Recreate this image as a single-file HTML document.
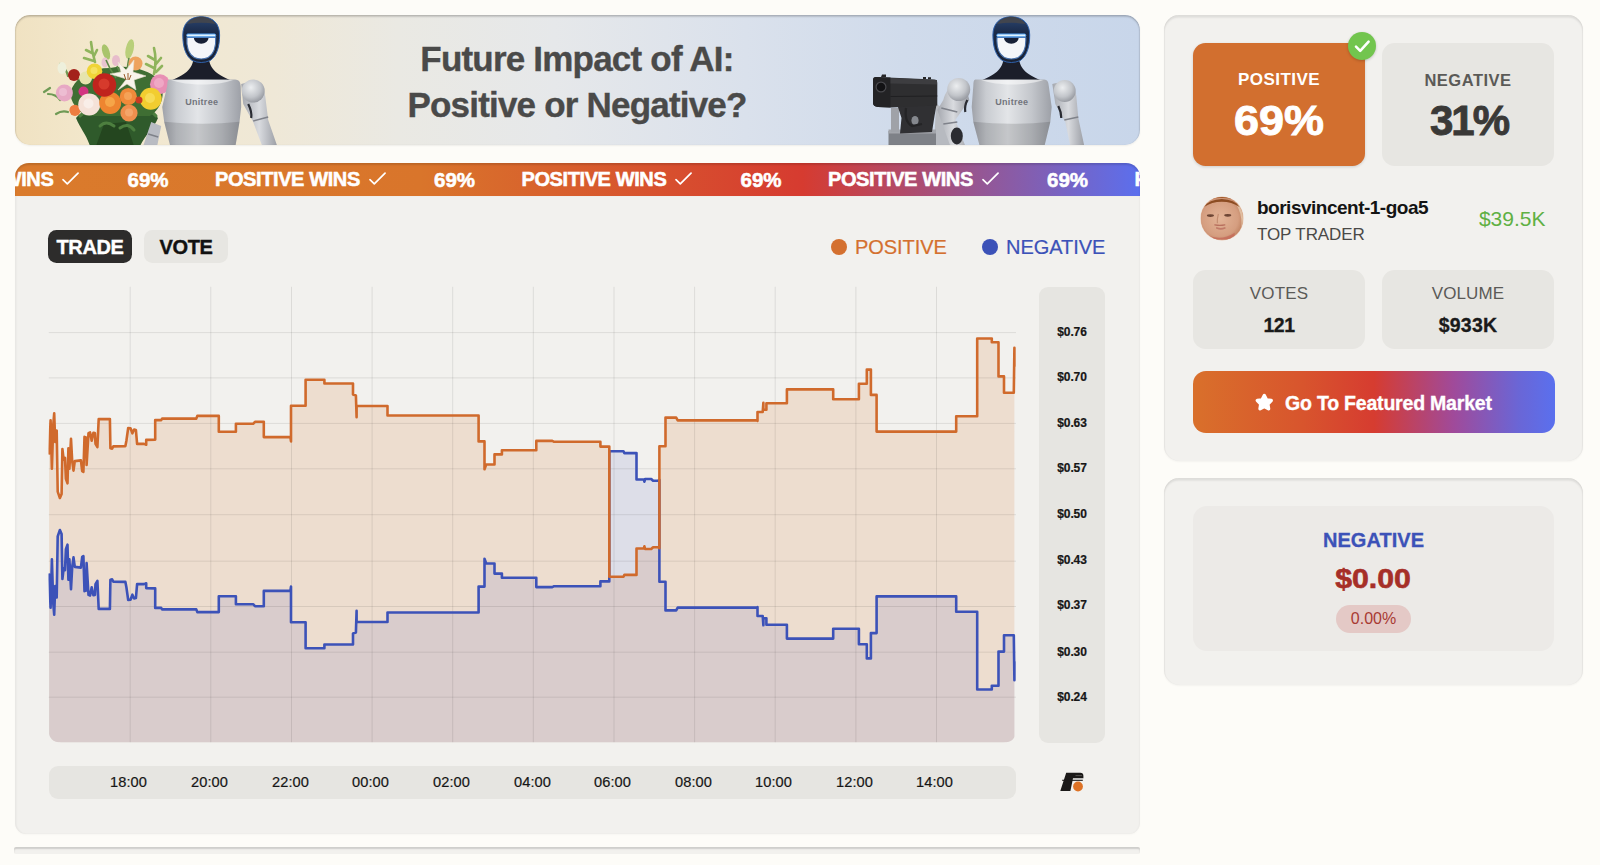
<!DOCTYPE html>
<html lang="en">
<head>
<meta charset="utf-8">
<title>Future Impact of AI: Positive or Negative?</title>
<style>
*{box-sizing:border-box;margin:0;padding:0}
html,body{width:1600px;height:865px;overflow:hidden}
body{background:#fdfcf8;font-family:"Liberation Sans",Arial,Helvetica,sans-serif;color:#1a1a1a;position:relative}
.abs{position:absolute}
/* banner */
#banner{left:15px;top:15px;width:1124.5px;height:130px;border-radius:15px;overflow:hidden;
 background:linear-gradient(90deg,#f0e2c2 0%,#f3e8cd 7.5%,#efe8d7 23%,#eae9e3 34%,#e6e8ea 48%,#dae1ec 65%,#d0dbeb 79%,#c8d6ea 100%);
 box-shadow:0 1px 2px rgba(0,0,0,.06)}
#banner:after{content:"";position:absolute;left:0;top:0;right:0;bottom:0;border-radius:15px;box-shadow:inset 0 1.5px 2px rgba(0,0,0,.24),inset 1px 0 1px rgba(0,0,0,.05),inset -1px 0 1px rgba(0,0,0,.05);pointer-events:none}
#banner h1{position:absolute;left:0;width:1124px;top:21px;text-align:center;font-size:35px;line-height:46px;font-weight:700;color:#4a4a49;letter-spacing:-.8px;-webkit-text-stroke:.35px #4a4a49}
/* ticker */
#ticker{left:15px;top:162.5px;width:1124.5px;height:33.5px;border-radius:14px 14px 0 0;overflow:hidden;
 background:linear-gradient(90deg,#da7b2c 0%,#d9752b 36%,#d63b30 70%,#5b6fee 100%);
 color:#fff;font-weight:700;font-size:20px;line-height:33px;white-space:nowrap;box-shadow:inset 0 2px 2px rgba(0,0,0,.13)}
#ticker span{position:absolute;top:0;-webkit-text-stroke:.55px #fff}
#ticker .pc{font-size:20.5px;letter-spacing:0}
#ticker .pw{font-size:20px;letter-spacing:-.4px}
/* main card */
#card{left:14.6px;top:196px;width:1125.6px;height:637.5px;background:#f2f1ee;border-radius:0 0 11px 11px;box-shadow:inset 1.5px 0 1.5px rgba(0,0,0,.045),inset -1px 0 1.5px rgba(0,0,0,.03),0 1px 2px rgba(0,0,0,.025)}
.tab{top:230px;height:33px;border-radius:8.5px;font-weight:700;font-size:20px;line-height:34px;text-align:center;letter-spacing:-.35px;-webkit-text-stroke:.4px}
#trade{left:48px;width:84px;background:#2d2c2b;color:#fff}
#vote{left:144px;width:84px;background:#e7e6e2;color:#111}
.leg{top:233.7px;font-size:20px;line-height:26px;letter-spacing:-.05px;-webkit-text-stroke:.2px}
.dot{width:16.5px;height:16.5px;border-radius:50%}
#yaxis{left:1039px;top:286.5px;width:66px;height:456px;background:#e6e5e1;border-radius:9px}
#yaxis div{position:absolute;left:0;width:66px;text-align:center;font-size:12px;font-weight:700;line-height:14px;color:#161616;letter-spacing:-.1px;-webkit-text-stroke:.2px}
#xaxis{left:48.5px;top:765.8px;width:967.4px;height:33px;background:#e6e5e1;border-radius:9px}
#xaxis div{position:absolute;top:0;width:80px;text-align:center;font-size:14.6px;line-height:33.5px;color:#161616;-webkit-text-stroke:.2px;letter-spacing:.1px}
/* right */
.rcard{background:#f2f1ee;border-radius:15px;box-shadow:inset 0 2.5px 2px rgba(0,0,0,.085),inset -1px 0 1px rgba(0,0,0,.03),inset 1px 0 1px rgba(0,0,0,.03),0 1px 2px rgba(0,0,0,.04)}
.box{border-radius:12.5px;background:#e7e6e2;text-align:center}
.big{margin-top:2.5px;font-size:42px;line-height:56px;font-weight:700}
.lbl{font-size:17px;color:#5b5a57;letter-spacing:.15px}
</style>
</head>
<body>

<!-- BANNER -->
<div id="banner" class="abs">
<svg id="bsvg" class="abs" style="left:0;top:0" width="1124" height="130" viewBox="15 15 1124 130">
<!--BANNERART-->
<defs>
<linearGradient id="torso" x1="0" x2="1" y1="0" y2="0"><stop offset="0" stop-color="#9fa2a9"/><stop offset=".18" stop-color="#c9ccd1"/><stop offset=".45" stop-color="#e3e5e8"/><stop offset=".75" stop-color="#c3c6cb"/><stop offset="1" stop-color="#9da0a7"/></linearGradient>
<linearGradient id="arm" x1="0" x2="1" y1="0" y2="0"><stop offset="0" stop-color="#a5a8af"/><stop offset=".5" stop-color="#d9dbdf"/><stop offset="1" stop-color="#9b9ea5"/></linearGradient>
<linearGradient id="helm" x1="0" x2="0" y1="0" y2="1"><stop offset="0" stop-color="#2b4672"/><stop offset=".35" stop-color="#1a2a48"/><stop offset="1" stop-color="#1a2233"/></linearGradient>
<radialGradient id="ball" cx=".4" cy=".35" r=".7"><stop offset="0" stop-color="#eceef0"/><stop offset=".6" stop-color="#c2c5ca"/><stop offset="1" stop-color="#92959c"/></radialGradient>
</defs>
<g><path d="M76,118 C82,110 96,106 116,108 C136,106 152,110 158,118 C154,128 146,134 140,146 L90,146 C86,134 80,128 76,118 Z" fill="#2f5a2b"/>
<path d="M96,146 L104,124 L126,122 L134,146 Z" fill="#24461f"/>
<path d="M80,116 q8,-8 16,-4 M140,112 q10,-4 16,4 M100,126 q6,-6 14,0 M120,128 q8,-6 14,2" stroke="#4d7f3f" stroke-width="3" stroke-linecap="round" fill="none"/>
<path d="M72,88 C78,76 92,68 110,68 C130,64 148,70 160,80 C166,94 162,108 150,116 L86,116 C74,108 68,98 72,88Z" fill="#3f6e33"/>
<path d="M91,42 q1,10 4,20 M86,50 l8,4 M84,58 l10,3 M97,50 l-3,6 M154,48 q3,12 0,26 M148,56 l7,4 M146,64 l8,4 M161,58 l-5,6 M162,66 l-6,6" stroke="#8fb45c" stroke-width="2.6" stroke-linecap="round" fill="none"/>
<path d="M48,94 q8,0 12,6 M56,114 q6,-4 12,-2 M60,64 q6,4 8,12 M44,92 l6,-4" stroke="#6f9a55" stroke-width="2.2" stroke-linecap="round" fill="none"/>
<ellipse cx="62" cy="68" rx="4.5" ry="6" fill="#eef0dc"/>
<ellipse cx="129.7" cy="49" rx="4" ry="10" transform="rotate(12 129.7 49)" fill="#b9cf7a"/>
<ellipse cx="106" cy="52" rx="3.6" ry="8" transform="rotate(-18 106 52)" fill="#a9c46c"/>
<ellipse cx="105" cy="62.5" rx="3.5" ry="5" fill="#e9c4d0"/>
<ellipse cx="116" cy="60.5" rx="4" ry="5.5" fill="#e7bccb"/>
<path d="M106,60 q4,10 10,18 M129,58 q-2,10 -2,16 M117,66 q2,6 6,10" stroke="#5d8a48" stroke-width="1.6" fill="none"/>
<circle cx="64.4" cy="93" r="8.5" fill="#e7a9c4" />
<circle cx="63" cy="92" r="4" fill="#edbdd2" />
<circle cx="74" cy="75" r="6" fill="#a3211b" />
<circle cx="85.6" cy="78" r="6.5" fill="#e6e4ae" />
<circle cx="135.5" cy="63.5" r="7" fill="#eea35e" />
<circle cx="94.5" cy="71.2" r="7.8" fill="#f0d437" />
<circle cx="94" cy="70.5" r="3.5" fill="#f6e160" />
<circle cx="83.5" cy="91.5" r="5" fill="#d23481" />
<circle cx="160" cy="84.2" r="10" fill="#e88fb4" />
<circle cx="159" cy="83" r="5" fill="#efa8c5" />
<circle cx="150.7" cy="98.7" r="11" fill="#f2cd30" />
<circle cx="150" cy="98" r="5" fill="#f7dc55" />
<circle cx="75" cy="110.3" r="5.6" fill="#ee7d40" />
<circle cx="89.2" cy="104.5" r="11" fill="#f5e2d8" />
<circle cx="88.5" cy="103.5" r="5" fill="#f9eee8" />
<circle cx="129" cy="113" r="8.6" fill="#ef8f4e" />
<circle cx="129" cy="112.5" r="4" fill="#f4a56a" />
<circle cx="128.3" cy="96.5" r="8.6" fill="#f08a3a" />
<circle cx="128" cy="96" r="4" fill="#f5a257" />
<circle cx="110.2" cy="103" r="11" fill="#ee8530" />
<circle cx="110" cy="102" r="5" fill="#f6a548" />
<circle cx="104.4" cy="85" r="11.8" fill="#c0241d" />
<circle cx="104" cy="84" r="5.5" fill="#d63a2c" />
<circle cx="139" cy="100" r="3.5" fill="#c93a22" />
<path d="M126.5,79 L110,74 L121,72 L118,62 L126,70 L134,60 L133,72 L146,76 L134,80 L136,90 L127,84 L118,90 Z" fill="#f8f3ea" stroke="#eadfcd" stroke-width=".6"/>
<path d="M124,74 l2,6 M128,73 l0,7 M131,75 l-2,5" stroke="#9a5a2a" stroke-width="1" fill="none"/></g>
<g transform="translate(201.2,0)">
<path d="M-50,122 L-58,146 L-44,146 L-40,126 Z" fill="#b9bcc3"/>
<path d="M-53,134 l10,3" stroke="#7f828a" stroke-width="1.6"/>
<path d="M40,84 C52,80 63,86 64,96 L67,120 L76,146 L61,146 L52,122 L42,104 Z" fill="url(#arm)"/>
<circle cx="52" cy="91" r="11.5" fill="url(#ball)"/>
<path d="M47,104 q4,8 3,14" stroke="#2a2c33" stroke-width="2.2" fill="none"/>
<path d="M52,121 l15,-4" stroke="#7f828a" stroke-width="1.6" fill="none"/>
<path d="M-7.5,56 L7.5,56 C8,68 14,74 30,80.5 L-30,80.5 C-14,74 -8,68 -7.5,56Z" fill="#1b1e2a"/>
<path d="M-32,79.6 L34,79.6 Q39,79.6 39.5,86 L40,107 L38.3,122 L34.3,146 L-31,146 L-37,122 L-39,107 L-34,86 Q-34,79.6 -32,79.600Z" fill="url(#torso)"/>
<path d="M-37,121.7 Q2,126 38.3,121.7 L34.3,146 L-31,146 Z" fill="#000" fill-opacity=".13"/>
<path d="M-30,80 L32,80 C16,86 -14,86 -30,80Z" fill="#fff" fill-opacity=".5"/>
<text x="0.5" y="105" text-anchor="middle" font-family="Liberation Sans, Arial, sans-serif" font-weight="700" font-size="9" letter-spacing=".3" fill="#72757d">Unitree</text>
<path d="M0,16.8 C12,16.8 18.4,24 18.4,35 C18.4,47 15.5,56 9,60.5 Q0,64.5 -9,60.5 C-15.5,56 -18.4,47 -18.4,35 C-18.4,24 -12,16.8 0,16.800Z" fill="url(#helm)" stroke="#2f62ad" stroke-width="1"/>
<path d="M-14.5,24 C-11,19 -5,16.8 0,16.8 C5,16.8 11,19 14.5,24 Q0,21.5 -14.5,24Z" fill="#41454e"/>
<path d="M-14.3,37.5 L14.5,37.5 C15,47 12.5,54 7,57.5 Q0,60.5 -7,57.5 C-12.5,54 -15,47 -14.3,37.500Z" fill="#f4f6f9" stroke="#4670ab" stroke-width="1.1"/>
<rect x="-14.5" y="34" width="29" height="2.8" rx="1.2" fill="#e2f3ff" stroke="#4f9ff0" stroke-width="1"/>
<path d="M-7.3,38 A7.3,5.8 0 0 0 7.3,38 Z" fill="#172036"/>
</g>
<g>
<path d="M936,104 L950,112 L952,146 L934,146 Z" fill="#b7bac0"/>
<path d="M888.5,131 h47.5 v15 h-47.5 Z" fill="#7e8187"/>
<path d="M888.5,129.5 h47.5 v4 h-47.5 Z" fill="#a3a6ac"/>
<path d="M891,108 h8 v24 h-8 Z" fill="#9fa2a8"/>
<path d="M897,104 L937,102 L934.5,116 L932,132 L900,133.5 L901.5,118 Z" fill="#303033"/>
<path d="M873,80 Q873,77 876,77 L934,79.6 Q937.3,79.6 937.3,83 L937.3,105.5 L891,107.5 L878,107 Q873,106.5 873,103 Z" fill="#2e2e30"/>
<path d="M873,80 Q873,77 876,77 L890.5,77.6 L890.5,107.5 L878,107 Q873,106.5 873,103 Z" fill="#232325"/>
<path d="M890.5,78 L937,80 L937,84.5 L890.5,83.5 Z" fill="#3d3d40"/>
<path d="M890.5,96.5 L937.3,96 " stroke="#1f1f21" stroke-width="1"/>
<path d="M881,77 h5 v-2.5 h-4 Z M923,79 h3 v-2 h-3Z M928,79.3 h3 v-2 h-3Z" fill="#262628"/>
<circle cx="881" cy="87" r="4.9" fill="#121214" stroke="#48484c" stroke-width="1.2"/>
<ellipse cx="915" cy="120.5" rx="3.6" ry="4.6" fill="#85888e"/>
<path d="M906,108 q-2,14 6,18 l10,-2" fill="none" stroke="#242426" stroke-width="2.2"/>
</g>
<g transform="translate(1011.3,0)">
<path d="M-74,110 L-61,146 L-46,146 L-56,120 L-42,100 L-46,84 C-60,80 -66,92 -68,100 Z" fill="url(#arm)"/>
<circle cx="-52.6" cy="89.5" r="11.5" fill="url(#ball)"/>
<path d="M-70,108 l16,4 M-68,124 l14,-2" stroke="#7f828a" stroke-width="1.6" fill="none"/>
<path d="M-44,100 q-3,6 -2,12" stroke="#2a2c33" stroke-width="2.2" fill="none"/>
<ellipse cx="-54.5" cy="136" rx="6" ry="8.5" fill="#2b2c31"/>
<path d="M41,84 C53,80 64,86 65,96 L67,118 L73,146 L59,146 L54,122 L44,104 Z" fill="url(#arm)"/>
<circle cx="53.4" cy="91" r="11" fill="url(#ball)"/>
<path d="M47,106 q3,6 3,12" stroke="#2a2c33" stroke-width="2.2" fill="none"/>
<path d="M53,120 l14,-3" stroke="#7f828a" stroke-width="1.6" fill="none"/>
<path d="M-7.5,56 L7.5,56 C8,68 14,74 30,80.5 L-30,80.5 C-14,74 -8,68 -7.5,56Z" fill="#1b1e2a"/>
<path d="M-36,79.6 L33,79.6 Q37,79.6 37.5,86 L40.4,107 L39,122 L33.2,146 L-31.6,146 L-38,122 L-39.6,107 L-38,86 Q-38,79.6 -36,79.600Z" fill="url(#torso)"/>
<path d="M-38,121.7 Q0,126 39,121.7 L33.2,146 L-31.6,146 Z" fill="#000" fill-opacity=".13"/>
<path d="M-30,80 L32,80 C16,86 -14,86 -30,80Z" fill="#fff" fill-opacity=".5"/>
<text x="0.5" y="105" text-anchor="middle" font-family="Liberation Sans, Arial, sans-serif" font-weight="700" font-size="9" letter-spacing=".3" fill="#72757d">Unitree</text>
<path d="M0,16.8 C12,16.8 18.4,24 18.4,35 C18.4,47 15.5,56 9,60.5 Q0,64.5 -9,60.5 C-15.5,56 -18.4,47 -18.4,35 C-18.4,24 -12,16.8 0,16.800Z" fill="url(#helm)" stroke="#2f62ad" stroke-width="1"/>
<path d="M-14.5,24 C-11,19 -5,16.8 0,16.8 C5,16.8 11,19 14.5,24 Q0,21.5 -14.5,24Z" fill="#41454e"/>
<path d="M-14.3,37.5 L14.5,37.5 C15,47 12.5,54 7,57.5 Q0,60.5 -7,57.5 C-12.5,54 -15,47 -14.3,37.500Z" fill="#f4f6f9" stroke="#4670ab" stroke-width="1.1"/>
<rect x="-14.5" y="34" width="29" height="2.8" rx="1.2" fill="#e2f3ff" stroke="#4f9ff0" stroke-width="1"/>
<path d="M-7.3,38 A7.3,5.8 0 0 0 7.3,38 Z" fill="#172036"/>
</g>
<!--/BANNERART-->
</svg>
<h1>Future Impact of AI:<br>Positive or Negative?</h1>
</div>

<!-- TICKER -->
<div id="ticker" class="abs">
<!--TICKER-->
<span class="pw" style="left:-106.5px">POSITIVE WINS</span>
<svg class="abs" style="left:47.0px;top:9.5px" width="17" height="13.2" viewBox="0 0 18 14"><path d="M1 8.2l4.6 4.3L17 1.2" fill="none" stroke="#fff" stroke-width="1.8" stroke-linecap="round" stroke-linejoin="round"/></svg>
<span class="pc" style="left:112.5px">69%</span>
<span class="pw" style="left:200.0px">POSITIVE WINS</span>
<svg class="abs" style="left:353.5px;top:9.5px" width="17" height="13.2" viewBox="0 0 18 14"><path d="M1 8.2l4.6 4.3L17 1.2" fill="none" stroke="#fff" stroke-width="1.8" stroke-linecap="round" stroke-linejoin="round"/></svg>
<span class="pc" style="left:419.0px">69%</span>
<span class="pw" style="left:506.5px">POSITIVE WINS</span>
<svg class="abs" style="left:660.0px;top:9.5px" width="17" height="13.2" viewBox="0 0 18 14"><path d="M1 8.2l4.6 4.3L17 1.2" fill="none" stroke="#fff" stroke-width="1.8" stroke-linecap="round" stroke-linejoin="round"/></svg>
<span class="pc" style="left:725.5px">69%</span>
<span class="pw" style="left:813.0px">POSITIVE WINS</span>
<svg class="abs" style="left:966.5px;top:9.5px" width="17" height="13.2" viewBox="0 0 18 14"><path d="M1 8.2l4.6 4.3L17 1.2" fill="none" stroke="#fff" stroke-width="1.8" stroke-linecap="round" stroke-linejoin="round"/></svg>
<span class="pc" style="left:1032.0px">69%</span>
<span class="pw" style="left:1119.5px">POSITIVE WINS</span>
<svg class="abs" style="left:1273.0px;top:9.5px" width="17" height="13.2" viewBox="0 0 18 14"><path d="M1 8.2l4.6 4.3L17 1.2" fill="none" stroke="#fff" stroke-width="1.8" stroke-linecap="round" stroke-linejoin="round"/></svg>
<!--/TICKER-->
</div>

<!-- MAIN CARD -->
<div id="card" class="abs"></div>
<div id="trade" class="abs tab">TRADE</div>
<div id="vote" class="abs tab">VOTE</div>
<div class="abs dot" style="left:830.5px;top:238.8px;background:#d4702f"></div>
<div class="abs leg" style="left:855px;color:#d4702f">POSITIVE</div>
<div class="abs dot" style="left:981.5px;top:238.8px;background:#3c52b8"></div>
<div class="abs leg" style="left:1006px;color:#3c52b8">NEGATIVE</div>

<svg id="chart" class="abs" style="left:48px;top:286px" width="970" height="458" viewBox="48 286 970 458">
<!--CHART-->
<defs><clipPath id="cc"><path d="M48.5,286.5 H1016.2 V729.5 Q1016.2,742.5 1003.2,742.5 H61.5 Q48.5,742.5 48.5,729.5 Z"/></clipPath></defs>
<g clip-path="url(#cc)">
<path d="M49.1,453.4 L50.6,420.4 L51.9,468.7 L53.2,425.4 L54.2,413.4 L55.2,442.0 L56.7,430.5 L57.7,491.6 L59.9,498.0 L61.6,494.1 L62.4,449.0 L63.7,459.8 L65.0,457.9 L65.9,478.9 L67.5,483.3 L68.4,448.3 L69.4,468.7 L71.0,438.8 L72.2,461.1 L73.5,470.6 L74.8,461.1 L80.9,460.4 L82.2,471.2 L83.4,471.9 L84.5,436.9 L86.0,437.5 L86.6,464.9 L88.5,433.1 L90.1,432.4 L91.7,440.7 L93.4,432.8 L94.9,433.1 L95.5,443.9 L97.4,447.1 L98.7,419.1 L109.9,419.1 L110.4,448.3 L112.1,448.6 L113.3,446.4 L125.4,446.1 L126.4,440.7 L128.2,428.0 L130.5,428.2 L132.4,433.3 L134.1,429.5 L135.9,429.9 L137.1,443.9 L144.0,443.9 L146.2,444.7 L146.2,439.9 L155.2,439.6 L155.2,420.1 L161.2,420.1 L162.1,418.6 L196.3,418.6 L197.3,415.9 L218.8,415.9 L218.8,431.8 L235.9,431.8 L235.9,423.8 L253.1,423.8 L255.0,421.8 L263.8,421.8 L263.8,437.1 L290.4,437.1 L291.0,441.4 L291.0,405.7 L305.6,405.7 L305.6,379.8 L324.4,379.8 L324.4,383.5 L353.0,383.5 L353.0,394.6 L355.9,395.5 L356.6,417.3 L356.6,406.0 L387.5,406.0 L387.5,415.5 L430.0,415.5 L478.6,415.5 L478.6,441.4 L484.5,441.4 L484.5,469.2 L486.2,464.5 L494.5,464.5 L494.5,454.4 L501.9,454.4 L501.9,450.3 L536.3,450.3 L536.3,440.9 L552.3,440.9 L554.1,441.8 L600.4,441.8 L600.4,446.6 L608.3,446.6 L609.3,446.6 L609.3,576.8 L623.5,576.8 L624.4,574.9 L636.5,574.9 L636.5,548.5 L643.8,548.5 L644.4,546.3 L645.1,549.0 L651.2,549.0 L653.1,547.2 L657.7,547.2 L659.4,548.1 L659.4,446.3 L665.5,446.3 L665.5,417.6 L676.2,417.6 L677.7,420.4 L756.7,420.4 L757.5,420.8 L757.5,412.0 L762.7,412.0 L763.4,402.7 L763.4,409.7 L766.4,409.7 L766.4,403.3 L786.9,403.3 L786.9,389.4 L833.2,389.4 L833.2,399.2 L858.9,399.2 L858.9,383.8 L866.8,383.8 L866.8,369.6 L870.9,369.6 L870.9,394.9 L876.6,394.9 L876.6,431.6 L956.2,431.6 L956.2,416.2 L977.2,416.2 L977.2,338.5 L991.8,338.5 L991.8,342.2 L998.5,342.2 L998.5,376.4 L1004.0,376.4 L1004.0,392.7 L1013.8,392.7 L1014.4,347.8 L1014.4,366.3 L1014.4,742.5 L49.1,742.5 Z" fill="#d4702f" fill-opacity=".155"/>
<path d="M49.1,574.6 L50.6,607.6 L51.9,559.3 L53.2,602.6 L54.2,614.6 L55.2,586.0 L56.7,597.5 L57.7,536.4 L59.9,530.0 L61.6,533.9 L62.4,579.0 L63.7,568.2 L65.0,570.1 L65.9,549.1 L67.5,544.7 L68.4,579.7 L69.4,559.3 L71.0,589.2 L72.2,566.9 L73.5,557.4 L74.8,566.9 L80.9,567.6 L82.2,556.8 L83.4,556.1 L84.5,591.1 L86.0,590.5 L86.6,563.1 L88.5,594.9 L90.1,595.6 L91.7,587.3 L93.4,595.2 L94.9,594.9 L95.5,584.1 L97.4,580.9 L98.7,608.9 L109.9,608.9 L110.4,579.7 L112.1,579.4 L113.3,581.6 L125.4,581.9 L126.4,587.3 L128.2,600.0 L130.5,599.8 L132.4,594.7 L134.1,598.5 L135.9,598.1 L137.1,584.1 L144.0,584.1 L146.2,583.3 L146.2,588.1 L155.2,588.4 L155.2,607.9 L161.2,607.9 L162.1,609.4 L196.3,609.4 L197.3,612.1 L218.8,612.1 L218.8,596.2 L235.9,596.2 L235.9,604.2 L253.1,604.2 L255.0,606.2 L263.8,606.2 L263.8,590.9 L290.4,590.9 L291.0,586.6 L291.0,622.3 L305.6,622.3 L305.6,648.2 L324.4,648.2 L324.4,644.5 L353.0,644.5 L353.0,633.4 L355.9,632.5 L356.6,610.7 L356.6,622.0 L387.5,622.0 L387.5,612.5 L430.0,612.5 L478.6,612.5 L478.6,586.6 L484.5,586.6 L484.5,558.8 L486.2,563.5 L494.5,563.5 L494.5,573.6 L501.9,573.6 L501.9,577.7 L536.3,577.7 L536.3,587.1 L552.3,587.1 L554.1,586.2 L600.4,586.2 L600.4,581.4 L608.3,581.4 L609.3,581.4 L609.3,451.2 L623.5,451.2 L624.4,453.1 L636.5,453.1 L636.5,479.5 L643.8,479.5 L644.4,481.7 L645.1,479.0 L651.2,479.0 L653.1,480.8 L657.7,480.8 L659.4,479.9 L659.4,581.7 L665.5,581.7 L665.5,610.4 L676.2,610.4 L677.7,607.6 L756.7,607.6 L757.5,607.2 L757.5,616.0 L762.7,616.0 L763.4,625.3 L763.4,618.3 L766.4,618.3 L766.4,624.7 L786.9,624.7 L786.9,638.6 L833.2,638.6 L833.2,628.8 L858.9,628.8 L858.9,644.2 L866.8,644.2 L866.8,658.4 L870.9,658.4 L870.9,633.1 L876.6,633.1 L876.6,596.4 L956.2,596.4 L956.2,611.8 L977.2,611.8 L977.2,689.5 L991.8,689.5 L991.8,685.8 L998.5,685.8 L998.5,651.6 L1004.0,651.6 L1004.0,635.3 L1013.8,635.3 L1014.4,680.2 L1014.4,661.7 L1014.4,742.5 L49.1,742.5 Z" fill="#3c52b8" fill-opacity=".115"/>
<path d="M48.5,332.6H1016.2M48.5,377.9H1016.2M48.5,423.4H1016.2M48.5,468.8H1016.2M48.5,514.7H1016.2M48.5,561.2H1016.2M48.5,606.5H1016.2M48.5,652.2H1016.2M48.5,697.2H1016.2M130.2,286.5V742.5M210.8,286.5V742.5M291.5,286.5V742.5M372.1,286.5V742.5M452.7,286.5V742.5M533.3,286.5V742.5M614.0,286.5V742.5M694.6,286.5V742.5M775.2,286.5V742.5M855.9,286.5V742.5M936.5,286.5V742.5" stroke="#000" stroke-opacity=".09" stroke-width="1" fill="none"/>
<path d="M49.1,574.6 L50.6,607.6 L51.9,559.3 L53.2,602.6 L54.2,614.6 L55.2,586.0 L56.7,597.5 L57.7,536.4 L59.9,530.0 L61.6,533.9 L62.4,579.0 L63.7,568.2 L65.0,570.1 L65.9,549.1 L67.5,544.7 L68.4,579.7 L69.4,559.3 L71.0,589.2 L72.2,566.9 L73.5,557.4 L74.8,566.9 L80.9,567.6 L82.2,556.8 L83.4,556.1 L84.5,591.1 L86.0,590.5 L86.6,563.1 L88.5,594.9 L90.1,595.6 L91.7,587.3 L93.4,595.2 L94.9,594.9 L95.5,584.1 L97.4,580.9 L98.7,608.9 L109.9,608.9 L110.4,579.7 L112.1,579.4 L113.3,581.6 L125.4,581.9 L126.4,587.3 L128.2,600.0 L130.5,599.8 L132.4,594.7 L134.1,598.5 L135.9,598.1 L137.1,584.1 L144.0,584.1 L146.2,583.3 L146.2,588.1 L155.2,588.4 L155.2,607.9 L161.2,607.9 L162.1,609.4 L196.3,609.4 L197.3,612.1 L218.8,612.1 L218.8,596.2 L235.9,596.2 L235.9,604.2 L253.1,604.2 L255.0,606.2 L263.8,606.2 L263.8,590.9 L290.4,590.9 L291.0,586.6 L291.0,622.3 L305.6,622.3 L305.6,648.2 L324.4,648.2 L324.4,644.5 L353.0,644.5 L353.0,633.4 L355.9,632.5 L356.6,610.7 L356.6,622.0 L387.5,622.0 L387.5,612.5 L430.0,612.5 L478.6,612.5 L478.6,586.6 L484.5,586.6 L484.5,558.8 L486.2,563.5 L494.5,563.5 L494.5,573.6 L501.9,573.6 L501.9,577.7 L536.3,577.7 L536.3,587.1 L552.3,587.1 L554.1,586.2 L600.4,586.2 L600.4,581.4 L608.3,581.4 L609.3,581.4 L609.3,451.2 L623.5,451.2 L624.4,453.1 L636.5,453.1 L636.5,479.5 L643.8,479.5 L644.4,481.7 L645.1,479.0 L651.2,479.0 L653.1,480.8 L657.7,480.8 L659.4,479.9 L659.4,581.7 L665.5,581.7 L665.5,610.4 L676.2,610.4 L677.7,607.6 L756.7,607.6 L757.5,607.2 L757.5,616.0 L762.7,616.0 L763.4,625.3 L763.4,618.3 L766.4,618.3 L766.4,624.7 L786.9,624.7 L786.9,638.6 L833.2,638.6 L833.2,628.8 L858.9,628.8 L858.9,644.2 L866.8,644.2 L866.8,658.4 L870.9,658.4 L870.9,633.1 L876.6,633.1 L876.6,596.4 L956.2,596.4 L956.2,611.8 L977.2,611.8 L977.2,689.5 L991.8,689.5 L991.8,685.8 L998.5,685.8 L998.5,651.6 L1004.0,651.6 L1004.0,635.3 L1013.8,635.3 L1014.4,680.2 L1014.4,661.7" fill="none" stroke="#3c52b8" stroke-width="2.6" stroke-linejoin="round" stroke-linecap="round"/>
<path d="M49.1,453.4 L50.6,420.4 L51.9,468.7 L53.2,425.4 L54.2,413.4 L55.2,442.0 L56.7,430.5 L57.7,491.6 L59.9,498.0 L61.6,494.1 L62.4,449.0 L63.7,459.8 L65.0,457.9 L65.9,478.9 L67.5,483.3 L68.4,448.3 L69.4,468.7 L71.0,438.8 L72.2,461.1 L73.5,470.6 L74.8,461.1 L80.9,460.4 L82.2,471.2 L83.4,471.9 L84.5,436.9 L86.0,437.5 L86.6,464.9 L88.5,433.1 L90.1,432.4 L91.7,440.7 L93.4,432.8 L94.9,433.1 L95.5,443.9 L97.4,447.1 L98.7,419.1 L109.9,419.1 L110.4,448.3 L112.1,448.6 L113.3,446.4 L125.4,446.1 L126.4,440.7 L128.2,428.0 L130.5,428.2 L132.4,433.3 L134.1,429.5 L135.9,429.9 L137.1,443.9 L144.0,443.9 L146.2,444.7 L146.2,439.9 L155.2,439.6 L155.2,420.1 L161.2,420.1 L162.1,418.6 L196.3,418.6 L197.3,415.9 L218.8,415.9 L218.8,431.8 L235.9,431.8 L235.9,423.8 L253.1,423.8 L255.0,421.8 L263.8,421.8 L263.8,437.1 L290.4,437.1 L291.0,441.4 L291.0,405.7 L305.6,405.7 L305.6,379.8 L324.4,379.8 L324.4,383.5 L353.0,383.5 L353.0,394.6 L355.9,395.5 L356.6,417.3 L356.6,406.0 L387.5,406.0 L387.5,415.5 L430.0,415.5 L478.6,415.5 L478.6,441.4 L484.5,441.4 L484.5,469.2 L486.2,464.5 L494.5,464.5 L494.5,454.4 L501.9,454.4 L501.9,450.3 L536.3,450.3 L536.3,440.9 L552.3,440.9 L554.1,441.8 L600.4,441.8 L600.4,446.6 L608.3,446.6 L609.3,446.6 L609.3,576.8 L623.5,576.8 L624.4,574.9 L636.5,574.9 L636.5,548.5 L643.8,548.5 L644.4,546.3 L645.1,549.0 L651.2,549.0 L653.1,547.2 L657.7,547.2 L659.4,548.1 L659.4,446.3 L665.5,446.3 L665.5,417.6 L676.2,417.6 L677.7,420.4 L756.7,420.4 L757.5,420.8 L757.5,412.0 L762.7,412.0 L763.4,402.7 L763.4,409.7 L766.4,409.7 L766.4,403.3 L786.9,403.3 L786.9,389.4 L833.2,389.4 L833.2,399.2 L858.9,399.2 L858.9,383.8 L866.8,383.8 L866.8,369.6 L870.9,369.6 L870.9,394.9 L876.6,394.9 L876.6,431.6 L956.2,431.6 L956.2,416.2 L977.2,416.2 L977.2,338.5 L991.8,338.5 L991.8,342.2 L998.5,342.2 L998.5,376.4 L1004.0,376.4 L1004.0,392.7 L1013.8,392.7 L1014.4,347.8 L1014.4,366.3" fill="none" stroke="#d06a2c" stroke-width="2.6" stroke-linejoin="round" stroke-linecap="round"/>
</g>
<!--/CHART-->
</svg>

<div id="yaxis" class="abs">
<div style="top:38.0px">$0.76</div><div style="top:83.6px">$0.70</div><div style="top:129.5px">$0.63</div>
<div style="top:174.8px">$0.57</div><div style="top:220.6px">$0.50</div><div style="top:266.3px">$0.43</div>
<div style="top:311.8px">$0.37</div><div style="top:358.1px">$0.30</div><div style="top:403.5px">$0.24</div>
</div>
<div id="xaxis" class="abs">
<div style="left:40px">18:00</div><div style="left:121px">20:00</div><div style="left:202px">22:00</div>
<div style="left:282px">00:00</div><div style="left:363px">02:00</div><div style="left:444px">04:00</div>
<div style="left:524px">06:00</div><div style="left:605px">08:00</div><div style="left:685px">10:00</div>
<div style="left:766px">12:00</div><div style="left:846px">14:00</div>
</div>
<!--LOGO-->
<svg class="abs" style="left:1056px;top:768px" width="32" height="28" viewBox="1056 768 32 28">
<path d="M1066.2,772.8 H1080.3 Q1083.4,772.8 1083.4,775.8 V778.3 H1073 L1070.4,790.9 H1060.3 Z" fill="#1b1918"/>
<path d="M1075.5,775.6 H1082" stroke="#6a6866" stroke-width=".7"/>
<path d="M1062.2,780.3 H1082.8" stroke="#1b1918" stroke-width="1.1"/>
<circle cx="1078" cy="786.5" r="4.9" fill="#de7225"/>
</svg>
<!--/LOGO-->

<!-- bottom next card edge -->
<div class="abs" style="left:14.4px;top:847px;width:1126px;height:7px;border-radius:2px;background:#f2f1ee;box-shadow:inset 0 2px 1.5px rgba(0,0,0,.15)"></div>

<!-- RIGHT CARD 1 -->
<div class="abs rcard" style="left:1164px;top:15px;width:419px;height:446px"></div>
<div class="abs box" style="left:1193px;top:43px;width:172px;height:123px;background:#d26f2f;color:#fff;box-shadow:0 1px 3px rgba(0,0,0,.15)">
 <div style="margin-top:25.5px;font-size:17px;line-height:22px;font-weight:700;letter-spacing:.45px">POSITIVE</div>
 <div class="big" style="-webkit-text-stroke:.9px #fff"><span id="n69" style="display:inline-block;transform:scaleX(1.07)">69%</span></div>
</div>
<div class="abs" style="left:1348px;top:32px;width:28px;height:28px;border-radius:50%;background:#72c54e;box-shadow:0 1px 3px rgba(0,0,0,.2)">
<svg width="28" height="28" viewBox="0 0 28 28"><path d="M8 14.6l4.2 4.2L20.6 9.6" fill="none" stroke="#fff" stroke-width="2.6" stroke-linecap="round" stroke-linejoin="round"/></svg>
</div>
<div class="abs box" style="left:1382px;top:43px;width:172px;height:123px;color:#3a3937">
 <div style="margin-top:25.5px;font-size:16.5px;line-height:22px;font-weight:700;letter-spacing:.5px;color:#5b5a57">NEGATIVE</div>
 <div class="big" style="-webkit-text-stroke:.9px #3a3937"><span id="n31" style="display:inline-block;letter-spacing:-2px;margin-right:-2px">31%</span></div>
</div>

<!-- trader -->
<div class="abs" id="avatar" style="left:1200.7px;top:197px;width:42.6px;height:42.6px;border-radius:50%;overflow:hidden;background:#d9a484;box-shadow:0 0 0 .5px rgba(222,150,110,.5)">
<svg width="42.6" height="42.6" viewBox="0 0 43 43" style="display:block">
<defs><radialGradient id="skin" cx=".45" cy=".5" r=".6"><stop offset="0" stop-color="#e3b497"/><stop offset=".7" stop-color="#d59e80"/><stop offset="1" stop-color="#b97a58"/></radialGradient></defs>
<rect width="43" height="43" fill="url(#skin)"/>
<path d="M36,8 Q43,20 40,36 L43,43 V0Z" fill="#e9d3b6" fill-opacity=".7"/>
<path d="M3,10 Q8,2.5 21,2 Q34,2.5 39,10 Q31,4.8 21,4.8 Q11,4.8 3,10Z" fill="#8c4c22"/>
<path d="M0,0 H43 V5 Q30,.5 21,1 Q10,.5 0,6Z" fill="#a05a2a"/>
<ellipse cx="9.5" cy="18.8" rx="3.6" ry="1.4" fill="#5a3526" fill-opacity=".85"/>
<ellipse cx="27" cy="18.5" rx="3.6" ry="1.4" fill="#5a3526" fill-opacity=".85"/>
<path d="M14,28.2 q5,1 10,0" stroke="#b8705e" stroke-width="1.4" fill="none" stroke-linecap="round"/>
<path d="M16,31.3 q4,1.6 8,0" stroke="#c17a68" stroke-width="1.8" fill="none" stroke-linecap="round"/>
<path d="M17.5,17 q-1.5,6 -1,9.5" stroke="#c48d70" stroke-width="1.2" fill="none"/>
<path d="M6,38 Q20,45 34,36 L34,43 H6Z" fill="#c25a50" fill-opacity=".55"/>
</svg>
<!--AVATAR-->
</div>
<div class="abs" style="left:1257px;top:196px;font-size:19px;line-height:24px;font-weight:700;letter-spacing:-.5px;color:#141414">borisvincent-1-goa5</div>
<div class="abs" style="left:1257px;top:223.5px;font-size:17px;line-height:22px;color:#4a4947;letter-spacing:-.1px">TOP TRADER</div>
<div class="abs" style="left:1400px;width:145.5px;text-align:right;top:206.7px;font-size:21px;line-height:24px;color:#5fb043">$39.5K</div>

<!-- stats -->
<div class="abs box" style="left:1193px;top:270px;width:172px;height:79px">
 <div class="lbl" style="margin-top:12.7px;line-height:22px">VOTES</div>
 <div style="margin-top:8.5px;font-size:19.5px;line-height:24px;font-weight:700;letter-spacing:-.5px;-webkit-text-stroke:.3px">121</div>
</div>
<div class="abs box" style="left:1382px;top:270px;width:172px;height:79px">
 <div class="lbl" style="margin-top:12.7px;line-height:22px">VOLUME</div>
 <div style="margin-top:8.5px;font-size:19.5px;line-height:24px;font-weight:700;letter-spacing:.2px;-webkit-text-stroke:.3px">$933K</div>
</div>

<!-- button -->
<div class="abs" style="left:1193px;top:371.4px;width:361.5px;height:61.7px;border-radius:13px;background:linear-gradient(90deg,#d9702b 0%,#d8552d 30%,#d63c30 50%,#a04a9a 72%,#6a66d6 90%,#5a70ee 100%);color:#fff">
 <svg class="abs" style="left:61px;top:20.6px;overflow:visible" width="20" height="20" viewBox="0 0 20 20"><path d="M10.30,3.50 L12.47,7.81 L17.24,8.54 L13.82,11.94 L14.59,16.71 L10.30,14.50 L6.01,16.71 L6.78,11.94 L3.36,8.54 L8.13,7.81Z" fill="#fff" stroke="#fff" stroke-width="3.4" stroke-linejoin="round"/></svg>
 <div class="abs" style="left:92px;top:19.2px;font-size:19.5px;line-height:24px;font-weight:700;letter-spacing:-.2px;-webkit-text-stroke:.35px #fff">Go To Featured Market</div>
</div>

<!-- RIGHT CARD 2 -->
<div class="abs rcard" style="left:1164px;top:478px;width:419px;height:207px"></div>
<div class="abs" style="left:1193px;top:506px;width:361px;height:145px;border-radius:14px;background:#eceae7;text-align:center">
 <div style="margin-top:22px;font-size:20px;line-height:24px;font-weight:700;letter-spacing:.05px;color:#3c52b8;-webkit-text-stroke:.3px #3c52b8">NEGATIVE</div>
 <div style="margin-top:10px;font-size:28px;line-height:34px;font-weight:700;color:#a62f28;-webkit-text-stroke:.6px #a62f28"><span style="display:inline-block;transform:scaleX(1.08)">$0.00</span></div>
 <div style="margin:9px auto 0;width:75px;height:28px;border-radius:14px;background:#e4c9c6;font-size:16px;line-height:28px;color:#a83a33">0.00%</div>
</div>

</body>
</html>
